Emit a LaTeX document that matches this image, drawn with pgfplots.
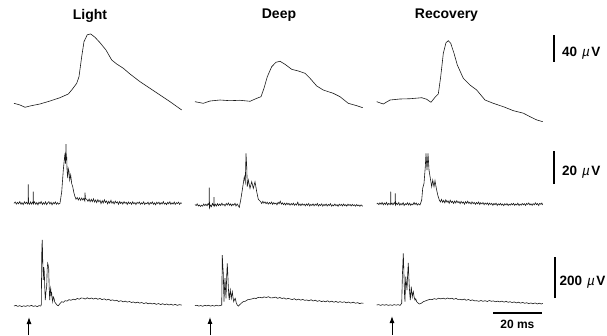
\documentclass[border=0pt]{standalone}
\usepackage{pgfplots}
\pgfplotsset{compat=1.18}
\usepackage{fontspec}
\setmainfont{Liberation Sans}
\usetikzlibrary{arrows.meta}
\pgfplotsset{
 trace/.style={hide axis, scale only axis, clip=false, x=2.425pt, xmin=-6.3, xmax=63.3, anchor=south west},
 r1/.style={trace, y=0.675pt, ymin=-40, ymax=110},
 r2/.style={trace, y=1.65pt, ymin=-5, ymax=40},
 r3/.style={trace, y=0.205pt, ymin=-150, ymax=340},
 tr/.style={black!90, line width=0.6pt, no marks}
}
\newcommand{\lab}[1]{{\bfseries #1}\hspace{5pt}{\itshape µ}\hspace{1.5pt}{\bfseries V}}
\tikzset{stim/.style={line width=1pt, -{Latex[length=7pt,width=5pt]}}}
\begin{document}
\begin{tikzpicture}
\useasboundingbox (0,0) rectangle (607pt,335pt);
\tikzset{title/.style={font=\bfseries\fontsize{14}{16}\selectfont}}
\node[title] at (90pt,319.5pt) {Light};
\node[title] at (279pt,319.5pt) {Deep};
\node[title] at (446.5pt,319.5pt) {Recovery};

% ---------------- Row 1 ----------------
\begin{axis}[r1, at={(13.72pt,204.7pt)}]
\addplot[tr] coordinates {(-6.19,0) (-3.71,-2.5) (-1.65,-5.9) (0.41,-4.0) (2.47,-2.5) (4.54,-1.0) (8.66,3.4) (12.78,8.3) (16.21,13.8) (17.61,19.7) (19.67,29.6) (20.62,39.4) (21.73,69.0) (22.68,91.3) (24.04,101.6) (25.45,102.7) (27.22,97.8) (29.28,89.8) (31.75,78.9) (34.11,64.1) (36.17,58.2) (38.89,51.9) (41.65,43.4) (45.78,32.0) (49.90,22.2) (54.02,12.3) (58.14,2.4) (62.97,-9.9)};
\end{axis}
\begin{axis}[r1, at={(194.72pt,206.3pt)}]
\addplot[tr] coordinates {(-6.19,0) (-2.76,-2.4) (0,1.0) (4.12,2.5) (8.25,1.5) (12.37,2.1) (16.50,0.6) (19.26,5.0) (21.03,7.4) (22.27,19.9) (23.63,37.0) (25.44,51.9) (27.22,58.4) (28.87,59.9) (30.93,55.4) (33.69,48.0) (36.42,45.5) (39.18,42.1) (41.24,34.7) (44.00,23.3) (46.73,17.3) (50.85,12.4) (53.61,7.4) (57.03,-2.4) (60.50,-5.9) (62.97,-8.9)};
\end{axis}
\begin{axis}[r1, at={(376.72pt,206.3pt)}]
\addplot[tr] coordinates {(-6.31,0) (-3.59,-3.4) (-0.82,2.5) (3.30,4.0) (7.42,4.4) (12.25,5.9) (14.31,3.6) (16.08,-0.9) (17.73,6.5) (19.09,11.4) (20.08,37.0) (21.16,71.7) (22.27,87.4) (23.22,90.4) (24.21,86.5) (25.57,71.7) (26.93,54.4) (29.40,34.7) (32.17,24.7) (34.93,17.3) (38.35,2.5) (41.78,-2.4) (45.90,-7.4) (50.03,-13.3) (54.15,-17.0) (56.91,-22.2) (59.68,-27.0) (62.15,-29.6)};
\draw[line width=1.2pt] (axis cs:66.8,59) -- (axis cs:66.8,99);
\node[anchor=base west, inner sep=0, font=\fontsize{13.5}{15}\selectfont] at (axis cs:70.1,67.7) {\lab{40}};
\end{axis}

% ---------------- Row 2 ----------------
\begin{axis}[r2, at={(13.72pt,123.45pt)}]
\addplot[tr] coordinates {(-6.2,0) (-5.7,0.8) (-5.2,-0.5) (-4.8,0.6) (-4.3,-0.3) (-3.8,1.0) (-3.3,-0.6) (-2.9,0.4) (-2.4,-0.8) (-1.9,0.9) (-1.5,-0.2) (-1.0,0.7) (-0.6,-0.4) (-0.35,0.5) (-0.29,11.5) (-0.2,0.3) (0.2,-0.6) (0.6,0.8) (1.0,-0.5) (1.4,0.6) (1.7,0) (1.77,7.0) (1.85,-0.3) (2.3,0.9) (2.8,-0.6) (3.2,0.5) (3.7,-0.9) (4.1,0.7) (4.6,-0.2) (5.0,1.1) (5.5,-0.7) (5.9,0.4) (6.4,-0.5) (6.8,0.9) (7.3,-0.8) (7.7,0.3) (8.2,1.0) (8.6,-0.4) (9.1,0.6) (9.5,-0.9) (10.0,0.5) (10.4,-0.3) (10.9,0.8) (11.3,-0.6) (11.8,0.4) (12.2,-0.5) (12.78,0) (13.49,7.0) (14.15,20.2) (14.6,27) (14.85,30.3) (15.05,24) (15.26,35.9) (15.4,26) (15.55,28.2) (15.7,20) (15.96,15.2) (16.2,21) (16.50,19.2) (16.8,14) (17.20,17.2) (17.6,12) (18.02,10.1) (18.5,6.5) (18.97,4.0) (19.4,2.5) (19.9,3.5) (20.33,2.0) (20.8,3.3) (21.3,1.8) (21.73,3.2) (22.2,2.0) (22.6,3.0) (23.0,1.5) (23.09,6.4) (23.3,2.8) (23.80,2.4) (24.3,1.2) (24.8,2.6) (25.2,0.9) (25.7,2.4) (26.1,1.0) (26.6,2.7) (27.0,0.8) (27.5,2.0) (27.9,0.4) (28.4,2.2) (28.8,0.9) (29.3,1.8) (29.7,-0.2) (30.2,1.6) (30.6,0.2) (31.1,2.1) (31.5,0.5) (32.0,1.4) (32.4,-0.3) (32.9,1.2) (33.3,0.1) (33.8,1.8) (34.2,0.0) (34.7,1.0) (35.1,-0.4) (35.6,1.3) (36.0,0.2) (36.5,0.9) (36.9,-0.6) (37.4,1.1) (37.8,-0.1) (38.3,0.7) (38.7,-0.5) (39.2,1.0) (39.6,0.0) (40.1,0.6) (40.5,-0.7) (41.0,0.8) (41.4,-0.2) (41.9,0.5) (42.3,-0.6) (42.8,0.9) (43.2,-0.3) (43.7,0.4) (44.1,-0.8) (44.6,0.6) (45.0,-0.1) (45.5,0.8) (45.9,-0.6) (46.4,0.3) (46.8,-0.4) (47.3,0.9) (47.7,-0.7) (48.2,0.2) (48.6,-0.3) (49.1,0.7) (49.5,-0.8) (50.0,0.4) (50.4,-0.2) (50.9,0.8) (51.3,-0.6) (51.8,0.3) (52.2,-0.9) (52.7,0.6) (53.1,-0.2) (53.6,0.7) (54.0,-0.7) (54.5,0.4) (54.9,-0.4) (55.4,1.0) (55.8,-0.5) (56.3,0.2) (56.7,-0.8) (57.2,0.6) (57.6,-0.3) (58.1,0.9) (58.5,-0.6) (59.0,0.3) (59.4,-0.5) (59.9,0.8) (60.3,-0.7) (60.8,0.4) (61.2,-0.2) (61.7,0.7) (62.1,-0.6) (62.6,0.3) (63.0,0)};
\end{axis}
\begin{axis}[r2, at={(194.72pt,122.25pt)}]
\addplot[tr] coordinates {(-6.2,0) (-5.7,-0.6) (-5.3,0.4) (-4.8,-0.9) (-4.4,-0.3) (-3.9,-1.2) (-3.5,-0.4) (-3.0,-1.0) (-2.6,0.3) (-2.1,-0.7) (-1.7,0.2) (-1.2,-0.8) (-0.8,0.5) (-0.4,-0.3) (-0.29,10.2) (-0.2,-2.0) (0.2,-0.4) (0.6,-1.3) (1.0,0.6) (1.4,-0.5) (1.6,0) (1.65,4.4) (1.75,-1.0) (2.2,0.2) (2.6,-0.9) (3.1,0.5) (3.5,-0.7) (4.0,0.3) (4.4,-0.6) (4.9,0.8) (5.3,-0.4) (5.8,0.1) (6.2,-0.9) (6.7,0.6) (7.1,-0.3) (7.6,0.9) (8.0,-0.5) (8.5,0.4) (8.9,-0.8) (9.4,0.2) (9.8,-0.4) (10.3,0.7) (10.7,-0.9) (11.2,0.3) (11.6,-0.6) (12.08,-1.7) (12.66,2.7) (13.32,8.8) (14.15,16.8) (14.56,13.6) (14.85,31.0) (15.14,22.9) (15.38,10.8) (15.80,14.8) (16.50,9.8) (17.20,13.8) (17.86,9.8) (18.56,13.8) (19.26,7.8) (19.92,3.2) (20.91,1.7) (21.3,0.6) (21.8,1.9) (22.2,0.8) (22.7,1.6) (23.1,0.5) (23.6,1.4) (24.0,0.2) (24.5,1.2) (24.9,0.4) (25.4,1.5) (25.8,0.1) (26.3,1.1) (26.7,0.3) (27.2,0.9) (27.6,-0.2) (28.1,1.3) (28.5,0.5) (29.0,2.0) (29.4,0.2) (29.9,1.0) (30.3,-0.1) (30.8,0.8) (31.2,-0.3) (31.7,0.9) (32.1,0.0) (32.6,0.7) (33.0,-0.4) (33.5,0.6) (33.9,-0.2) (34.4,0.8) (34.8,-0.5) (35.3,0.4) (35.7,-0.3) (36.2,1.4) (36.6,-0.6) (37.1,0.3) (37.5,-0.7) (38.0,0.5) (38.4,-0.4) (38.9,0.2) (39.3,-0.8) (39.8,0.3) (40.2,-0.5) (40.7,0.6) (41.1,-0.9) (41.6,0.1) (42.0,-0.6) (42.5,0.4) (42.9,-0.8) (43.4,0.2) (43.8,-0.5) (44.3,0.6) (44.7,-0.9) (45.2,0.0) (45.6,-0.6) (46.1,0.4) (46.5,-1.0) (47.0,0.1) (47.4,-0.7) (47.9,0.3) (48.3,-0.9) (48.8,0.0) (49.2,-0.6) (49.7,0.5) (50.1,-1.0) (50.6,-0.2) (51.0,-0.8) (51.5,0.3) (51.9,-0.7) (52.4,-0.1) (52.8,-1.1) (53.3,0.2) (53.7,-0.6) (54.2,0.1) (54.6,-0.9) (55.1,0.3) (55.5,-0.7) (56.0,-0.1) (56.4,-1.0) (56.9,0.2) (57.3,-0.6) (57.8,0.0) (58.2,-0.9) (58.7,0.1) (59.1,-0.7) (59.6,-0.2) (60.0,-1.0) (60.5,0.0) (60.9,-0.8) (61.4,-0.3) (61.8,-1.1) (62.3,-0.2) (62.8,-0.9) (63.0,-0.9)};
\end{axis}
\begin{axis}[r2, at={(376.72pt,122.75pt)}]
\addplot[tr] coordinates {(-6.3,0) (-5.9,0.5) (-5.4,-0.4) (-5.0,0.7) (-4.5,-0.2) (-4.1,0.9) (-3.6,-0.5) (-3.2,0.6) (-2.7,-0.3) (-2.3,1.0) (-1.8,-0.6) (-1.4,0.4) (-0.9,-0.2) (-0.6,0.3) (-0.54,7.5) (-0.45,-0.3) (0.0,0.6) (0.4,-0.5) (0.9,0.8) (1.3,0.0) (1.36,6.5) (1.45,-0.6) (1.9,0.5) (2.3,-0.4) (2.8,0.9) (3.2,-0.7) (3.7,0.3) (4.1,-0.5) (4.6,0.8) (5.0,-0.9) (5.5,0.2) (5.9,-0.4) (6.4,0.7) (6.8,-0.6) (7.3,0.5) (7.7,-0.8) (8.2,0.1) (8.6,-0.5) (9.1,0.9) (9.5,-0.3) (10.0,0.6) (10.4,-0.7) (10.9,0.2) (11.2,-0.3) (11.55,-0.6) (12.25,2.4) (12.66,9.5) (13.20,12.5) (13.73,22.6) (14.02,30.7) (14.43,20.6) (14.85,30.7) (15.26,20.6) (15.80,15.6) (16.37,10.5) (16.79,14.5) (17.32,10.5) (17.73,14.1) (18.27,9.5) (18.85,5.5) (19.51,2.4) (20.0,1.2) (20.4,2.8) (20.9,1.0) (21.3,2.2) (21.8,0.7) (22.2,2.5) (22.7,1.1) (23.1,1.9) (23.6,0.4) (24.0,2.3) (24.5,0.9) (24.9,1.7) (25.4,0.3) (25.8,1.8) (26.3,0.6) (26.7,2.0) (27.2,0.8) (27.6,1.5) (28.1,0.2) (28.5,1.6) (29.0,0.5) (29.4,1.3) (29.9,-0.1) (30.3,1.4) (30.8,0.4) (31.2,1.7) (31.7,0.3) (32.1,1.1) (32.6,0.0) (33.0,1.3) (33.5,0.2) (33.9,1.0) (34.4,-0.2) (34.8,0.9) (35.3,0.1) (35.7,1.2) (36.2,-0.3) (36.6,0.8) (37.1,0.0) (37.5,0.9) (38.0,-0.4) (38.4,0.6) (38.9,-0.2) (39.3,0.7) (39.8,-0.6) (40.2,0.5) (40.7,-0.3) (41.1,0.4) (41.6,-0.8) (42.0,0.3) (42.5,-0.4) (42.9,0.5) (43.4,-0.9) (43.8,0.1) (44.3,-0.5) (44.7,0.4) (45.2,-0.7) (45.6,0.0) (46.1,-1.0) (46.5,0.2) (47.0,-0.6) (47.4,0.3) (47.9,-0.9) (48.3,-0.1) (48.8,-0.7) (49.2,0.2) (49.7,-0.5) (50.1,0.4) (50.6,-0.8) (51.0,0.0) (51.5,-0.6) (51.9,0.5) (52.4,-0.9) (52.8,-0.1) (53.3,-0.7) (53.7,0.3) (54.2,-0.5) (54.6,0.2) (55.1,-0.9) (55.5,0.4) (56.0,-0.3) (56.4,0.6) (56.9,-0.6) (57.3,0.1) (57.8,-0.8) (58.2,0.2) (58.7,-0.5) (59.1,0.7) (59.6,-0.4) (60.0,0.3) (60.5,-0.9) (60.9,0.4) (61.4,-0.2) (61.8,0.6) (62.1,-0.6)};
\draw[line width=1.2pt] (axis cs:66.8,12.1) -- (axis cs:66.8,32.1);
\node[anchor=base west, inner sep=0, font=\fontsize{13.5}{15}\selectfont] at (axis cs:70.1,17.1) {\lab{20}};
\end{axis}

% ---------------- Row 3 ----------------
\begin{axis}[r3, at={(13.72pt,-1.75pt)}]
\addplot[tr] coordinates {(-6.2,0) (-5.4,3) (-4.6,-2) (-3.8,2) (-3.0,-3) (-2.2,1) (-1.4,-2) (-0.6,2) (0.2,-1) (1.0,3) (1.8,-2) (2.6,1) (3.4,-3) (4.2,2) (4.83,0) (5.07,5) (5.3,290) (5.48,322) (5.7,200) (5.90,127) (6.1,190) (6.31,167) (6.5,90) (6.72,29) (7.0,70) (7.30,94) (7.5,180) (7.71,208) (7.9,200) (8.12,184) (8.3,100) (8.54,29) (8.75,70) (8.95,86) (9.15,55) (9.36,62) (9.55,35) (9.77,21) (10.0,45) (10.31,38) (10.6,20) (11.01,13) (11.5,5) (12.08,1.5) (12.8,12) (13.49,21) (14.2,18) (14.85,26) (15.7,24) (16.5,31) (17.3,28) (18.27,33) (19.1,30) (19.9,37) (20.7,33) (21.5,39) (22.39,38) (23.2,34) (24.0,40) (24.9,35) (25.7,39) (26.6,34) (27.5,38) (28.4,33) (29.28,37) (30.1,31) (31.0,35) (31.9,29) (32.8,33) (33.7,27) (34.5,30) (35.4,25) (36.17,28) (37.0,22) (37.9,26) (38.8,20) (39.7,24) (40.5,19) (41.4,22) (42.3,17) (43.01,20) (43.9,15) (44.8,19) (45.6,14) (46.5,17) (47.4,12) (48.3,16) (49.1,11) (49.90,14) (50.8,10) (51.7,13) (52.5,8) (53.4,12) (54.3,7) (55.1,11) (56.0,6) (56.79,10) (57.7,5) (58.6,9) (59.4,4) (60.3,8) (61.2,3) (62.1,7) (62.97,4)};
\draw[stim] (axis cs:0,-141.5) -- (axis cs:0,-53.7);
\end{axis}
\begin{axis}[r3, at={(194.72pt,-1.45pt)}]
\addplot[tr] coordinates {(-6.2,0) (-5.4,2) (-4.6,-2) (-3.8,1) (-3.0,-3) (-2.2,2) (-1.4,-1) (-0.6,2) (0.2,-2) (1.0,1) (1.8,-2) (2.6,2) (3.4,-1) (4.2,1) (4.83,3) (5.07,247) (5.25,200) (5.48,158) (5.6,100) (5.77,20) (6.0,90) (6.19,134) (6.4,80) (6.60,36) (6.9,150) (7.13,207) (7.35,150) (7.55,93) (7.75,50) (7.96,28) (8.15,60) (8.37,77) (8.6,50) (8.78,36) (9.0,55) (9.20,68) (9.5,40) (9.77,20) (10.1,30) (10.43,36) (10.8,15) (11.26,3) (11.7,-2) (12.08,3) (12.9,12) (13.73,20) (14.6,22) (15.5,29) (16.50,31) (17.3,33) (18.2,37) (19.0,35) (19.8,40) (20.62,41) (21.5,38) (22.3,43) (23.2,40) (24.1,44) (25.0,38) (26.11,39) (27.0,42) (27.9,36) (28.8,40) (29.7,35) (30.5,38) (31.4,32) (32.3,36) (32.99,33) (33.9,30) (34.8,34) (35.6,28) (36.5,32) (37.4,27) (38.2,31) (39.1,26) (39.88,28) (40.8,24) (41.7,29) (42.5,23) (43.4,27) (44.3,21) (45.1,25) (46.0,20) (46.73,23) (47.6,19) (48.5,24) (49.3,18) (50.2,22) (51.1,17) (51.9,21) (52.8,16) (53.61,20) (54.5,16) (55.4,19) (56.2,14) (57.1,18) (58.0,13) (59.09,17) (60.0,12) (60.9,15) (61.7,10) (62.5,13) (63.22,12)};
\draw[stim] (axis cs:0,-143) -- (axis cs:0,-55);
\end{axis}
\begin{axis}[r3, at={(376.72pt,-0.75pt)}]
\addplot[tr] coordinates {(-6.3,0) (-5.5,2) (-4.7,-2) (-3.9,2) (-3.1,-1) (-2.3,2) (-1.5,-2) (-0.7,1) (0.1,-2) (0.9,2) (1.7,-1) (2.5,2) (3.3,-2) (4.00,8) (4.3,150) (4.66,252) (4.85,180) (5.07,89) (5.2,40) (5.36,16) (5.5,80) (5.65,138) (5.9,110) (6.19,73) (6.45,150) (6.72,206) (6.9,150) (7.13,89) (7.35,50) (7.55,24) (7.75,60) (7.96,89) (8.15,60) (8.37,40) (8.55,55) (8.78,65) (9.1,40) (9.49,24) (9.8,30) (10.19,16) (10.7,10) (11.26,5) (12.0,8) (12.91,16) (13.8,20) (14.7,24) (15.67,28) (16.5,26) (17.4,31) (18.3,28) (19.2,33) (20.1,30) (21.16,33) (22.0,29) (22.9,34) (23.8,30) (24.7,33) (25.5,28) (26.4,32) (27.2,27) (28.04,28) (28.9,25) (29.8,29) (30.6,23) (31.5,27) (32.4,22) (33.2,25) (34.1,20) (34.93,21) (35.8,18) (36.7,22) (37.5,18) (38.4,21) (39.3,17) (40.1,22) (41.0,18) (41.78,20) (42.7,16) (43.6,19) (44.4,15) (45.3,19) (46.2,14) (47.0,18) (47.9,13) (48.66,16) (49.5,12) (50.4,15) (51.3,10) (52.1,14) (53.0,9) (53.9,13) (54.7,8) (55.55,11) (56.4,7) (57.3,10) (58.1,6) (59.0,10) (59.9,5) (60.7,9) (61.5,5) (62.15,8)};
\draw[stim] (axis cs:0,-146) -- (axis cs:0,-53.7);
\draw[line width=1.2pt] (axis cs:67.2,34) -- (axis cs:67.2,234);
\node[anchor=base west, inner sep=0, font=\fontsize{13.5}{15}\selectfont] at (axis cs:69.0,94) {\lab{200}};
\draw[line width=1.2pt] (axis cs:41.7,-39) -- (axis cs:61.9,-39);
\node[anchor=base, inner sep=0, font=\bfseries\fontsize{12}{14}\selectfont] at (axis cs:51.7,-114) {20 ms};
\end{axis}
\end{tikzpicture}
\end{document}
